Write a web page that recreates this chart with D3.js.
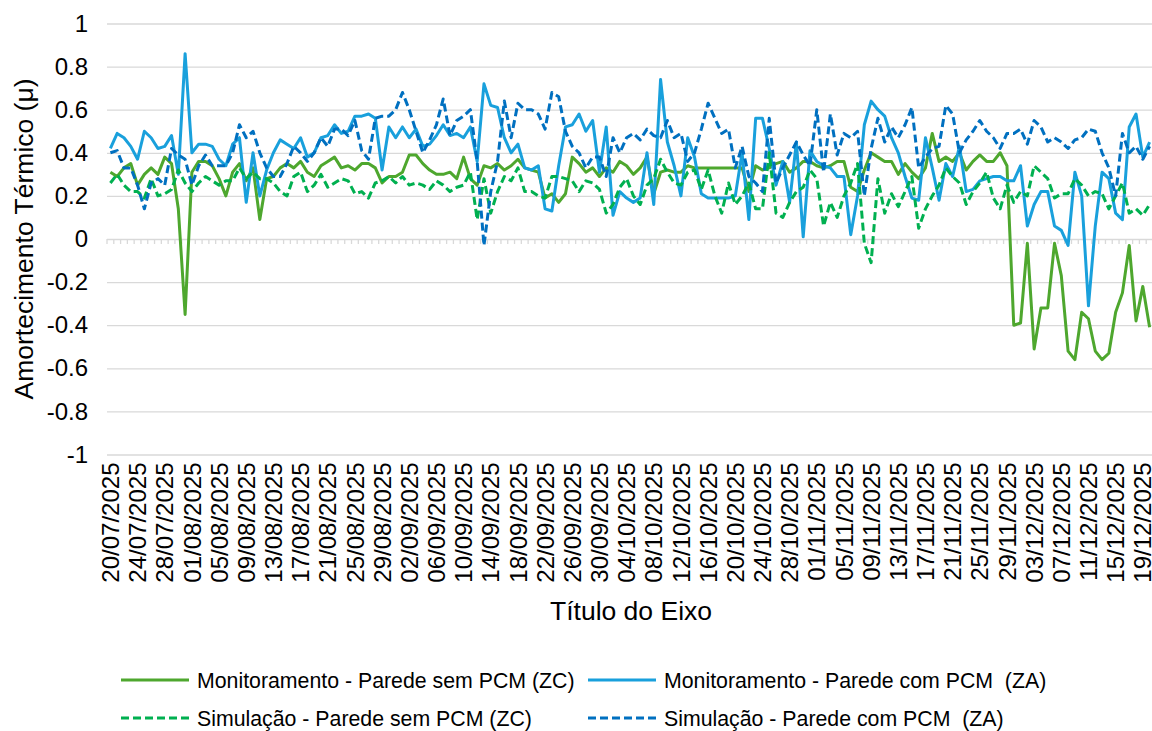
<!DOCTYPE html>
<html>
<head>
<meta charset="utf-8">
<script src="https://cdn.jsdelivr.net/npm/d3@7"></script>
<style>
  body { margin: 0; background: #fff; }
  text { font-family: Arial, "Liberation Sans", sans-serif; }
</style>
</head>
<body>
<div class="svg-container"></div>
<script>
// days from 20/07/2025 to 20/12/2025 (category axis)
const dates = d3.timeDay.range(new Date(2025, 6, 20), new Date(2025, 11, 21));

const yTicks = [1, 0.8, 0.6, 0.4, 0.2, 0, -0.2, -0.4, -0.6, -0.8, -1];
const yTickLabels = ['1', '0.8', '0.6', '0.4', '0.2', '0', '-0.2', '-0.4', '-0.6', '-0.8', '-1'];

// Monitoramento - Parede sem PCM (ZC)
const monZC = [
  0.31,0.29,0.33,0.35,0.25,0.30,0.33,0.30,0.38,0.35,0.14,-0.35,0.31,0.36,0.36,0.34,0.28,0.20,0.31,
  0.35,0.27,0.33,0.09,0.28,0.29,0.33,0.35,0.33,0.36,0.31,0.29,0.34,0.36,0.38,0.33,0.34,0.32,0.35,
  0.35,0.33,0.26,0.29,0.29,0.31,0.39,0.39,0.35,0.32,0.30,0.30,0.31,0.28,0.38,0.28,0.25,0.34,
  0.33,0.35,0.32,0.34,0.37,0.33,0.32,0.31,0.19,0.21,0.17,0.21,0.38,0.35,0.31,0.33,0.29,0.33,0.31,0.36,
  0.34,0.30,0.33,0.38,0.21,0.31,0.32,0.31,0.31,0.34,0.33,0.33,0.33,0.33,0.33,0.33,0.33,0.33,0.22,
  0.34,0.32,0.33,0.35,0.36,0.31,0.33,0.36,0.36,0.34,0.33,0.34,0.36,0.36,0.24,0.22,0.32,0.40,
  0.38,0.36,0.36,0.30,0.35,0.31,0.28,0.33,0.49,0.36,0.38,0.36,0.40,0.32,0.36,0.39,0.36,0.36,0.40,0.34,
  -0.40,-0.39,-0.02,-0.51,-0.32,-0.32,-0.02,-0.17,-0.52,-0.56,-0.34,-0.37,-0.52,-0.56,-0.53,-0.34,-0.25,-0.03,-0.38,-0.22,-0.41
];

// Monitoramento - Parede com PCM (ZA)
const monZA = [
  0.42,0.49,0.47,0.43,0.37,0.50,0.47,0.42,0.43,0.48,0.30,0.86,0.40,0.44,0.44,0.43,0.37,0.34,0.44,
  0.47,0.17,0.40,0.20,0.32,0.40,0.46,0.44,0.42,0.47,0.38,0.40,0.47,0.48,0.53,0.49,0.50,0.57,0.57,
  0.58,0.56,0.32,0.52,0.47,0.52,0.47,0.51,0.43,0.44,0.48,0.53,0.48,0.49,0.47,0.52,0.36,0.72,
  0.62,0.61,0.47,0.40,0.44,0.33,0.32,0.34,0.14,0.13,0.34,0.52,0.53,0.58,0.50,0.55,0.31,0.52,0.11,0.22,
  0.19,0.17,0.19,0.40,0.16,0.74,0.45,0.34,0.20,0.47,0.38,0.21,0.19,0.19,0.19,0.19,0.20,0.40,0.09,
  0.56,0.56,0.42,0.25,0.36,0.17,0.45,0.01,0.41,0.36,0.34,0.33,0.29,0.29,0.02,0.20,0.53,0.64,
  0.60,0.57,0.47,0.40,0.29,0.19,0.18,0.47,0.33,0.18,0.35,0.29,0.43,0.22,0.23,0.27,0.28,0.29,0.29,0.27,
  0.27,0.34,0.06,0.16,0.22,0.22,0.06,0.04,-0.03,0.31,0.20,-0.31,0.06,0.31,0.28,0.12,0.09,0.52,0.58,0.38,0.45
];

// Simulação - Parede sem PCM (ZC)
const simZC = [
  0.26,0.30,0.25,0.22,0.22,0.19,0.28,0.20,0.21,0.23,0.32,0.26,0.22,0.26,0.29,0.27,0.25,0.27,0.27,
  0.33,0.28,0.31,0.28,0.28,0.26,0.22,0.20,0.29,0.31,0.22,0.25,0.30,0.24,0.26,0.28,0.27,0.21,0.22,
  0.19,0.26,0.27,0.29,0.26,0.29,0.25,0.26,0.25,0.23,0.27,0.25,0.22,0.24,0.25,0.31,0.09,0.28,
  0.12,0.22,0.29,0.27,0.33,0.22,0.22,0.20,0.19,0.29,0.29,0.28,0.27,0.22,0.27,0.26,0.23,0.12,0.16,0.24,
  0.28,0.20,0.16,0.25,0.28,0.37,0.31,0.26,0.25,0.31,0.32,0.23,0.32,0.20,0.12,0.26,0.16,0.20,0.26,
  0.14,0.14,0.40,0.12,0.10,0.17,0.22,0.24,0.32,0.28,0.06,0.17,0.10,0.20,0.26,0.35,-0.02,-0.11,
  0.28,0.12,0.21,0.15,0.22,0.29,0.05,0.14,0.20,0.25,0.33,0.29,0.26,0.16,0.22,0.26,0.31,0.19,0.14,0.25,
  0.17,0.22,0.20,0.34,0.31,0.28,0.19,0.21,0.21,0.28,0.25,0.20,0.22,0.21,0.14,0.20,0.26,0.12,0.14,0.11,0.16
];

// Simulação - Parede com PCM (ZA)
const simZA = [
  0.40,0.41,0.33,0.33,0.25,0.14,0.26,0.28,0.25,0.42,0.39,0.37,0.25,0.34,0.39,0.34,0.34,0.34,0.40,
  0.53,0.47,0.50,0.40,0.33,0.29,0.29,0.35,0.43,0.40,0.36,0.40,0.47,0.43,0.51,0.51,0.48,0.55,0.41,
  0.37,0.56,0.57,0.57,0.60,0.68,0.60,0.50,0.40,0.46,0.53,0.65,0.48,0.55,0.57,0.60,0.36,-0.03,
  0.22,0.36,0.64,0.47,0.63,0.60,0.60,0.58,0.51,0.68,0.66,0.50,0.43,0.40,0.33,0.38,0.38,0.29,0.47,0.40,
  0.47,0.49,0.46,0.51,0.48,0.47,0.55,0.47,0.49,0.36,0.40,0.51,0.63,0.56,0.49,0.51,0.33,0.43,0.29,
  0.26,0.22,0.56,0.26,0.33,0.39,0.45,0.39,0.34,0.60,0.31,0.58,0.39,0.49,0.47,0.50,0.20,0.42,
  0.56,0.45,0.52,0.47,0.53,0.61,0.33,0.38,0.42,0.43,0.62,0.58,0.40,0.46,0.50,0.55,0.50,0.47,0.42,0.49,
  0.49,0.51,0.44,0.55,0.52,0.45,0.47,0.45,0.42,0.46,0.47,0.51,0.50,0.40,0.33,0.20,0.49,0.40,0.43,0.37,0.43
];

const seriesNames = [
  'Monitoramento - Parede sem PCM (ZC)',
  'Monitoramento - Parede com PCM  (ZA)',
  'Simulação - Parede sem PCM (ZC)',
  'Simulação - Parede com PCM  (ZA)'
];

// set up dimensions
const width = 1152;
const height = 731;
const plot = { left: 107, right: 1153, top: 23.5, bottom: 454.5 };

const series = [
  { name: seriesNames[0], values: monZC, color: '#4ea72e', dash: null },
  { name: seriesNames[1], values: monZA, color: '#19a0dc', dash: null },
  { name: seriesNames[2], values: simZC, color: '#00b050', dash: '8,4' },
  { name: seriesNames[3], values: simZA, color: '#0070c0', dash: '8,4' }
];

const svg = d3.select('.svg-container')
  .append('svg')
  .attr('width', width)
  .attr('height', height)

// scales
const x = d3.scaleBand()
  .domain(d3.range(dates.length))
  .range([plot.left, plot.right])

const y = d3.scaleLinear()
  .domain([-1, 1])
  .range([plot.bottom, plot.top])

const fmt = d3.timeFormat('%d/%m/%Y');

// gridlines + y labels
svg.append('g')
  .attr('transform', `translate(${plot.left},0)`)
  .call(d3.axisLeft(y)
    .tickValues(yTicks)
    .tickFormat((d, i) => yTickLabels[i])
    .tickSize(-(plot.right - plot.left))
    .tickPadding(19))
  .call(g => g.select('.domain').remove())
  .call(g => g.selectAll('line').attr('stroke', '#d9d9d9').attr('stroke-width', 1.3))
  .call(g => g.selectAll('text').attr('font-size', 24).attr('fill', '#000'))

// zero axis tick marks between categories
const bounds = x.domain().map(d => x(d)).concat([plot.right]);
svg.append('g')
  .selectAll('line')
  .data(bounds)
  .enter()
  .append('line')
  .attr('x1', d => d).attr('x2', d => d)
  .attr('y1', y(0)).attr('y2', y(0) + 5)
  .attr('stroke', '#d9d9d9')
  .attr('stroke-width', 1.3)

// x labels (every 4 days)
svg.append('g')
  .attr('transform', `translate(0,${plot.bottom})`)
  .call(d3.axisBottom(x)
    .tickValues(x.domain().filter(i => i % 4 === 0))
    .tickFormat(i => fmt(dates[i]))
    .tickSize(0))
  .call(g => g.select('.domain').remove())
  .selectAll('text')
  .attr('font-size', 24)
  .attr('fill', '#000')
  .attr('transform', 'rotate(-90)')
  .attr('text-anchor', 'end')
  .attr('x', -8)
  .attr('y', 0)
  .attr('dy', '0.36em')

// lines
const line = d3.line()
  .x((d, i) => x(i) + x.bandwidth() / 2)
  .y(d => y(d))

svg.append('g')
  .selectAll('path')
  .data(series)
  .enter()
  .append('path')
  .attr('d', d => line(d.values))
  .attr('fill', 'none')
  .attr('stroke', d => d.color)
  .attr('stroke-width', 3)
  .attr('stroke-linejoin', 'round')
  .attr('stroke-dasharray', d => d.dash)

// axis titles
svg.append('text')
  .attr('transform', `translate(33,${(plot.top + plot.bottom) / 2}) rotate(-90)`)
  .attr('text-anchor', 'middle')
  .attr('font-size', 26.5)
  .text('Amortecimento Térmico (μ)')

svg.append('text')
  .attr('x', 631)
  .attr('y', 620)
  .attr('text-anchor', 'middle')
  .attr('font-size', 26.5)
  .text('Título do Eixo')

// legend
const legendPos = [
  { x: 121, y: 680 }, { x: 588, y: 680 },
  { x: 121, y: 718 }, { x: 588, y: 718 }
];

const legend = svg.append('g')
  .selectAll('g')
  .data(series)
  .enter()
  .append('g')
  .attr('transform', (d, i) => `translate(${legendPos[i].x},${legendPos[i].y})`)

legend.append('line')
  .attr('x1', 0).attr('x2', 68)
  .attr('stroke', d => d.color)
  .attr('stroke-width', 3)
  .attr('stroke-dasharray', d => d.dash)

legend.append('text')
  .attr('x', 76)
  .attr('dy', '0.36em')
  .attr('font-size', 21.3)
  .style('white-space', 'pre')
  .text(d => d.name)
</script>
</body>
</html>
